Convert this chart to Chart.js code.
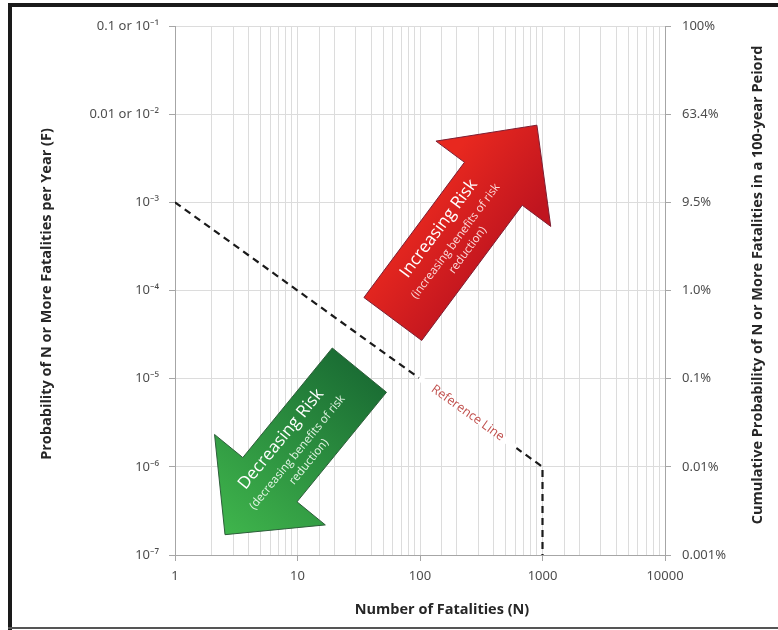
<!DOCTYPE html>
<html>
<head>
<meta charset="utf-8">
<script src="https://cdn.jsdelivr.net/npm/chart.js@4.4.0/dist/chart.umd.min.js"></script>
<style>
  html, body { margin: 0; padding: 0; background: #fff; }
</style>
</head>
<body>
<canvas id="grafico-fn" width="778" height="630"></canvas>
<script>
// Ejes del gráfico F-N
const fatalidadesTicks = [1, 10, 100, 1000, 10000];
const probabilidadTicks = [1e-1, 1e-2, 1e-3, 1e-4, 1e-5, 1e-6, 1e-7];
const probabilidadEtiquetas = ['0.1 or 10⁻¹', '0.01 or 10⁻²', '10⁻³', '10⁻⁴', '10⁻⁵', '10⁻⁶', '10⁻⁷'];
const acumuladaEtiquetas = ['100%', '63.4%', '9.5%', '1.0%', '0.1%', '0.01%', '0.001%'];

// Línea de referencia (N, F)
const referenciaN = [1, 1000, 1000];
const referenciaF = [1e-3, 1e-6, 1e-7];

// Flechas: cola y punta en unidades de N y F
const flechaAumentoN = [60, 900];
const flechaAumentoF = [4.75e-5, 7.5e-3];
const flechaDisminucionN = [32, 2.56];
const flechaDisminucionF = [1.25e-5, 1.7e-7];
const etiquetaReferenciaN = 245;

const FUENTE = "'Open Sans', 'Noto Sans', 'DejaVu Sans', sans-serif";
const FUENTE_TICKS = "'Noto Sans', 'Open Sans', sans-serif";
const GRIS_TEXTO = '#4d4d4d';
const GRIS_GRILLA = '#dcdcdc';
const GRIS_EJE = '#a6a6a6';

function esDecada(v) {
  const l = Math.log10(v);
  return Math.abs(l - Math.round(l)) < 1e-6;
}

function indiceDe(valor, lista) {
  return lista.findIndex(v => Math.abs(Math.log10(v) - Math.log10(valor)) < 1e-6);
}

function ticksDecadas(scale) {
  scale.ticks = probabilidadTicks.slice().sort((a, b) => a - b).map(v => ({ value: v }));
}

function aPixel(chart, n, f) {
  return { x: chart.scales.x.getPixelForValue(n), y: chart.scales.y.getPixelForValue(f) };
}

/**
 * Dibuja una flecha gruesa con degradado y texto
 */
function dibujarFlecha(ctx, cola, punta, opciones) {
  const dx = punta.x - cola.x, dy = punta.y - cola.y;
  const largo = Math.hypot(dx, dy);
  const ux = dx / largo, uy = dy / largo;
  const nx = -uy, ny = ux;
  const w = opciones.anchoCuerpo / 2, h = opciones.anchoCabeza / 2;
  const bx = punta.x - ux * opciones.largoCabeza, by = punta.y - uy * opciones.largoCabeza;

  ctx.save();
  ctx.beginPath();
  ctx.moveTo(cola.x + nx * w, cola.y + ny * w);
  ctx.lineTo(bx + nx * w, by + ny * w);
  ctx.lineTo(bx + nx * h, by + ny * h);
  ctx.lineTo(punta.x, punta.y);
  ctx.lineTo(bx - nx * h, by - ny * h);
  ctx.lineTo(bx - nx * w, by - ny * w);
  ctx.lineTo(cola.x - nx * w, cola.y - ny * w);
  ctx.closePath();

  const g = ctx.createLinearGradient(opciones.grad[0].x, opciones.grad[0].y, opciones.grad[1].x, opciones.grad[1].y);
  g.addColorStop(0, opciones.colores[0]);
  g.addColorStop(1, opciones.colores[1]);
  ctx.fillStyle = g;
  ctx.fill();
  ctx.lineWidth = 1;
  ctx.strokeStyle = opciones.borde;
  ctx.stroke();

  // Texto a lo largo del cuerpo
  const t = opciones.posTexto;
  const cx = cola.x + ux * t, cy = cola.y + uy * t;
  let ang = Math.atan2(uy, ux);
  if (Math.cos(ang) < 0) ang += Math.PI;
  ctx.translate(cx, cy);
  ctx.rotate(ang);
  ctx.textAlign = 'center';
  ctx.textBaseline = 'middle';
  ctx.fillStyle = '#ffffff';
  ctx.font = '17px ' + FUENTE;
  ctx.fillText(opciones.titulo, 0, -17);
  ctx.font = '11.5px ' + FUENTE;
  ctx.fillStyle = opciones.colorSub;
  ctx.fillText(opciones.sub[0], 0, 4);
  ctx.fillText(opciones.sub[1], 0, 19);
  ctx.restore();
}

const pluginDecoracion = {
  id: 'decoracion',
  beforeDraw(chart) {
    const ctx = chart.ctx;
    ctx.save();
    ctx.fillStyle = '#ffffff';
    ctx.fillRect(0, 0, chart.width, chart.height);
    ctx.restore();
  },
  afterDatasetsDraw(chart) {
    const ctx = chart.ctx;

    // Flecha roja: riesgo creciente
    const colaR = aPixel(chart, flechaAumentoN[0], flechaAumentoF[0]);
    const puntaR = aPixel(chart, flechaAumentoN[1], flechaAumentoF[1]);
    dibujarFlecha(ctx, colaR, puntaR, {
      anchoCuerpo: 72, anchoCabeza: 143, largoCabeza: 73,
      colores: ['#e8281f', '#c0151f'],
      grad: [{ x: colaR.x - 40, y: colaR.y - 30 }, { x: colaR.x + 40, y: colaR.y + 30 }],
      borde: '#7d1f33',
      posTexto: 100,
      titulo: 'Increasing Risk',
      sub: ['(increasing benefits of risk', 'reduction)'],
      colorSub: '#fbdada'
    });

    // Flecha verde: riesgo decreciente
    const colaV = aPixel(chart, flechaDisminucionN[0], flechaDisminucionF[0]);
    const puntaV = aPixel(chart, flechaDisminucionN[1], flechaDisminucionF[1]);
    dibujarFlecha(ctx, colaV, puntaV, {
      anchoCuerpo: 70, anchoCabeza: 143, largoCabeza: 71,
      colores: ['#1b6e34', '#3fb54c'],
      grad: [colaV, puntaV],
      borde: '#2d5e3a',
      posTexto: 103,
      titulo: 'Decreasing Risk',
      sub: ['(decreasing benefits of risk', 'reduction)'],
      colorSub: '#e3f5e5'
    });

    // Etiqueta de la línea de referencia
    const p0 = aPixel(chart, referenciaN[0], referenciaF[0]);
    const p1 = aPixel(chart, referenciaN[1], referenciaF[1]);
    const ang = Math.atan2(p1.y - p0.y, p1.x - p0.x);
    const frac = Math.log10(etiquetaReferenciaN / referenciaN[0]) / Math.log10(referenciaN[1] / referenciaN[0]);
    const cx = p0.x + (p1.x - p0.x) * frac;
    const cy = p0.y + (p1.y - p0.y) * frac;
    ctx.save();
    ctx.translate(cx, cy);
    ctx.rotate(ang);
    ctx.fillStyle = '#ffffff';
    ctx.fillRect(-60, -3, 120, 6);
    ctx.font = '12.5px ' + FUENTE;
    ctx.fillStyle = '#c0504d';
    ctx.textAlign = 'center';
    ctx.textBaseline = 'middle';
    ctx.fillText('Reference Line', 0, 0);
    ctx.restore();
  },
  afterDraw(chart) {
    const ctx = chart.ctx;
    ctx.save();
    ctx.fillStyle = '#262626';
    ctx.font = 'bold 14.5px ' + FUENTE;
    ctx.textAlign = 'center';
    ctx.textBaseline = 'middle';

    // Título eje X
    ctx.fillText('Number of Fatalities (N)', 442, 610);

    // Título eje Y izquierdo
    ctx.save();
    ctx.translate(47, 294);
    ctx.rotate(-Math.PI / 2);
    ctx.fillText('Probability of N or More Fatalities per Year (F)', 0, 0);
    ctx.restore();

    // Título eje Y derecho (lectura de abajo hacia arriba)
    ctx.save();
    ctx.translate(758, 285);
    ctx.rotate(-Math.PI / 2);
    ctx.fillText('Cumulative Probability of N or More Fatalities in a 100-year Peiord', 0, 0);
    ctx.restore();

    // Marco de la figura
    ctx.fillStyle = '#1a1a1a';
    ctx.fillRect(8, 3, chart.width - 8, 4);
    ctx.fillRect(8, 3, 4, chart.height - 3);
    ctx.fillStyle = '#555555';
    ctx.fillRect(8, chart.height - 3, chart.width - 8, 2);
    ctx.restore();
  }
};

const datosReferencia = referenciaN.map((n, i) => ({ x: n, y: referenciaF[i] }));

new Chart(document.getElementById('grafico-fn'), {
  type: 'line',
  data: {
    datasets: [{
      label: 'Reference Line',
      data: datosReferencia,
      borderColor: '#1a1a1a',
      borderWidth: 2.2,
      borderDash: [7, 5],
      pointRadius: 0,
      fill: false,
      tension: 0
    }]
  },
  options: {
    responsive: false,
    animation: false,
    events: [],
    layout: { padding: { top: 26, left: 0, right: 0, bottom: 0 } },
    plugins: {
      legend: { display: false },
      tooltip: { enabled: false },
      title: { display: false }
    },
    scales: {
      x: {
        type: 'logarithmic',
        position: 'bottom',
        min: 1,
        max: 10000,
        afterFit: scale => { scale.height = 75; },
        grid: {
          color: GRIS_GRILLA,
          lineWidth: 1,
          tickLength: 6,
          tickColor: ctx => (ctx.tick && esDecada(ctx.tick.value)) ? GRIS_EJE : 'rgba(0,0,0,0)'
        },
        border: { color: GRIS_EJE },
        ticks: {
          color: GRIS_TEXTO,
          font: { family: FUENTE_TICKS, size: 13 },
          padding: 7,
          maxRotation: 0,
          autoSkip: false,
          callback: value => indiceDe(value, fatalidadesTicks) >= 0 ? String(value) : ''
        }
      },
      y: {
        type: 'logarithmic',
        position: 'left',
        min: 1e-7,
        max: 1e-1,
        afterBuildTicks: ticksDecadas,
        afterFit: scale => { scale.width = 175; },
        grid: { color: GRIS_GRILLA, tickColor: GRIS_EJE, tickLength: 6 },
        border: { color: GRIS_EJE },
        ticks: {
          color: GRIS_TEXTO,
          font: { family: FUENTE_TICKS, size: 13 },
          padding: 10,
          callback: value => probabilidadEtiquetas[indiceDe(value, probabilidadTicks)] || ''
        }
      },
      y2: {
        type: 'logarithmic',
        position: 'right',
        min: 1e-7,
        max: 1e-1,
        afterBuildTicks: ticksDecadas,
        afterFit: scale => { scale.width = 113; },
        grid: { drawOnChartArea: false, tickColor: GRIS_EJE, tickLength: 6 },
        border: { color: GRIS_EJE },
        ticks: {
          color: GRIS_TEXTO,
          font: { family: FUENTE_TICKS, size: 13 },
          padding: 11,
          callback: value => acumuladaEtiquetas[indiceDe(value, probabilidadTicks)] || ''
        }
      }
    }
  },
  plugins: [pluginDecoracion]
});
</script>
</body>
</html>
